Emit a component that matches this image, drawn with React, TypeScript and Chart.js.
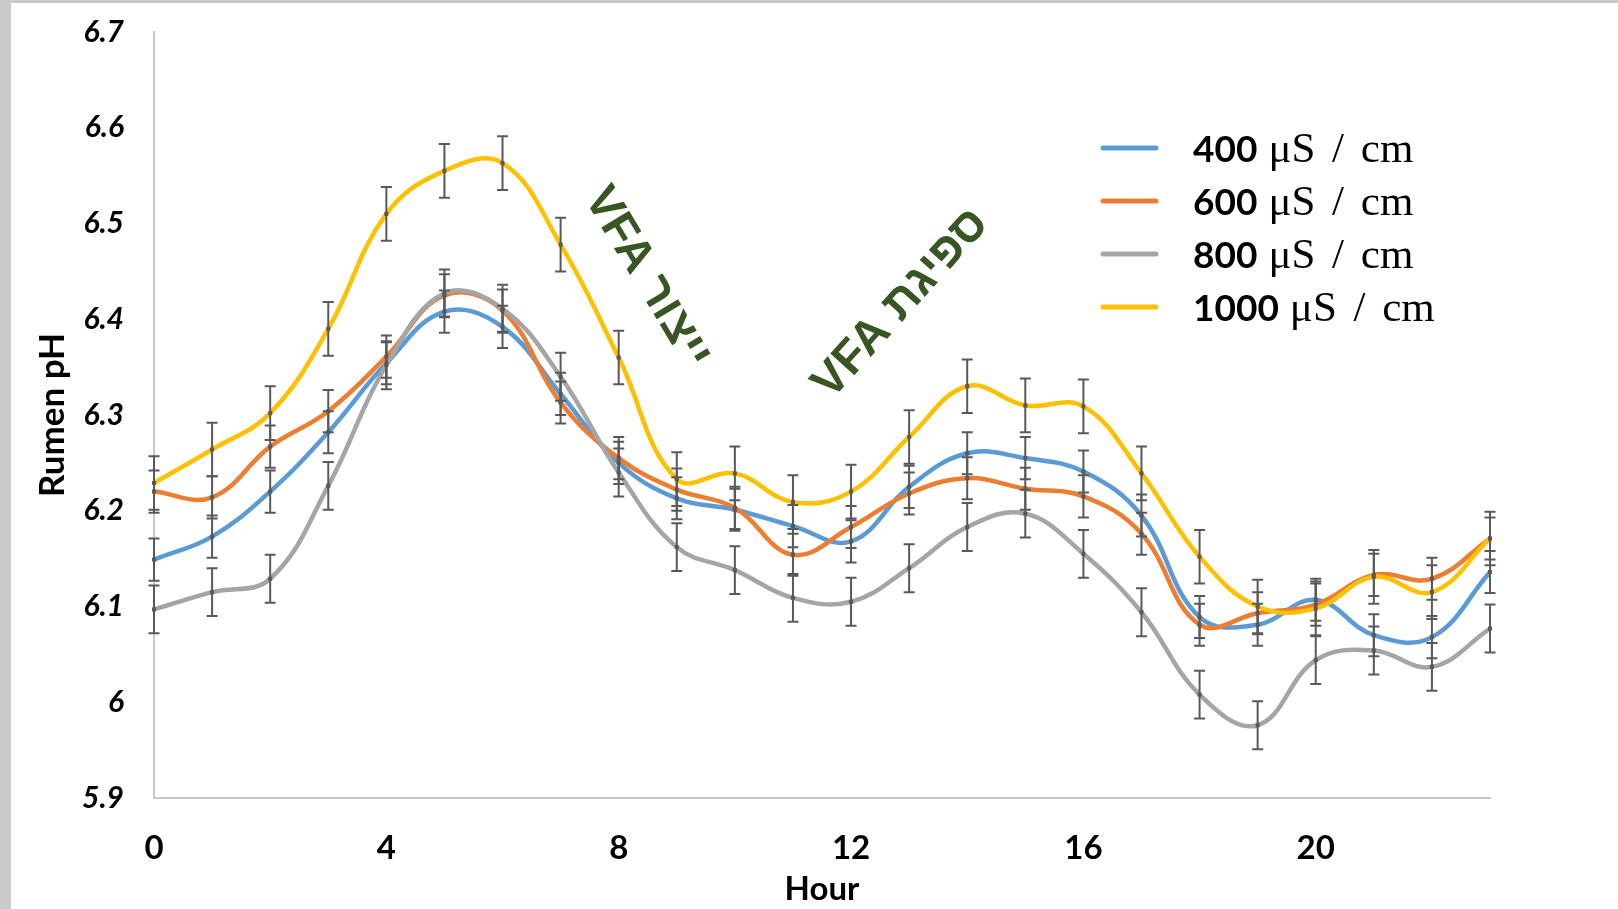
import React, { useEffect, useRef } from "react";
import { Chart, registerables } from "chart.js";

Chart.register(...registerables);

// ---- data ----
const hours = [0, 1, 2, 3, 4, 5, 6, 7, 8, 9, 10, 11, 12, 13, 14, 15, 16, 17, 18, 19, 20, 21, 22, 23];
const seriesNames = ["400", "600", "800", "1000"];
const unitText = "μS / cm";
const ph400 = [6.149, 6.173, 6.220, 6.282, 6.354, 6.408, 6.392, 6.322, 6.250, 6.213, 6.201, 6.184, 6.168, 6.225, 6.260, 6.255, 6.241, 6.195, 6.089, 6.081, 6.107, 6.070, 6.068, 6.136];
const ph600 = [6.220, 6.214, 6.267, 6.304, 6.361, 6.425, 6.409, 6.313, 6.255, 6.222, 6.203, 6.154, 6.183, 6.218, 6.234, 6.223, 6.215, 6.176, 6.081, 6.093, 6.102, 6.133, 6.129, 6.171];
const ph800 = [6.097, 6.115, 6.129, 6.226, 6.352, 6.427, 6.411, 6.340, 6.240, 6.162, 6.138, 6.109, 6.105, 6.140, 6.183, 6.197, 6.155, 6.094, 6.008, 5.976, 6.044, 6.054, 6.037, 6.077];
const ph1000 = [6.229, 6.264, 6.302, 6.390, 6.510, 6.555, 6.563, 6.478, 6.360, 6.233, 6.239, 6.209, 6.220, 6.277, 6.330, 6.310, 6.309, 6.239, 6.152, 6.100, 6.098, 6.131, 6.115, 6.171];
const err400 = [0.022, 0.022, 0.022, 0.022, 0.022, 0.022, 0.022, 0.022, 0.022, 0.022, 0.022, 0.022, 0.022, 0.022, 0.022, 0.022, 0.022, 0.022, 0.022, 0.022, 0.022, 0.022, 0.022, 0.022];
const err600 = [0.022, 0.022, 0.022, 0.022, 0.022, 0.022, 0.022, 0.022, 0.022, 0.022, 0.022, 0.022, 0.022, 0.022, 0.022, 0.022, 0.022, 0.022, 0.022, 0.022, 0.022, 0.022, 0.022, 0.022];
const err800 = [0.025, 0.025, 0.025, 0.025, 0.025, 0.025, 0.025, 0.025, 0.025, 0.025, 0.025, 0.025, 0.025, 0.025, 0.025, 0.025, 0.025, 0.025, 0.025, 0.025, 0.025, 0.025, 0.025, 0.025];
const err1000 = [0.028, 0.028, 0.028, 0.028, 0.028, 0.028, 0.028, 0.028, 0.028, 0.028, 0.028, 0.028, 0.028, 0.028, 0.028, 0.028, 0.028, 0.028, 0.028, 0.028, 0.028, 0.028, 0.028, 0.028];
const annotationTexts = ["ייצור VFA", "ספיגת VFA"];
const xTitle = "Hour";
const yTitle = "Rumen pH";

const seriesValues = [ph400, ph600, ph800, ph1000];
const seriesErrors = [err400, err600, err800, err1000];
const colors = ["#5B9BD5", "#ED7D31", "#A5A5A5", "#FFC000"];
const drawOrder = [3, 2, 1, 0];

export default function App() {
  const ref = useRef<HTMLCanvasElement>(null);

  useEffect(() => {
    const canvas = ref.current!;

    const errorBars = {
      id: "errorBars",
      afterDatasetsDraw(chart: any) {
        const ctx = chart.ctx;
        const xs = chart.scales.x;
        const ys = chart.scales.y;
        ctx.save();
        ctx.strokeStyle = "#595959";
        ctx.fillStyle = "#595959";
        ctx.lineWidth = 2;
        seriesValues.forEach((vals, si) => {
          vals.forEach((v, i) => {
            const e = seriesErrors[si][i];
            const x = xs.getPixelForValue(hours[i]);
            const yt = ys.getPixelForValue(v + e);
            const yb = ys.getPixelForValue(v - e);
            const y = ys.getPixelForValue(v);
            ctx.beginPath();
            ctx.moveTo(x, yt);
            ctx.lineTo(x, yb);
            ctx.moveTo(x - 5.5, yt);
            ctx.lineTo(x + 5.5, yt);
            ctx.moveTo(x - 5.5, yb);
            ctx.lineTo(x + 5.5, yb);
            ctx.stroke();
            ctx.fillRect(x - 2, y - 2, 4, 4);
          });
        });
        ctx.restore();
      },
    };

    const customLegend = {
      id: "customLegend",
      afterDraw(chart: any) {
        const ctx = chart.ctx;
        ctx.save();
        seriesNames.forEach((name, i) => {
          const y = 148 + i * 53;
          ctx.strokeStyle = colors[i];
          ctx.lineWidth = 5;
          ctx.lineCap = "round";
          ctx.beginPath();
          ctx.moveTo(1103, y);
          ctx.lineTo(1156, y);
          ctx.stroke();
          ctx.fillStyle = "#000";
          ctx.textBaseline = "alphabetic";
          ctx.textAlign = "left";
          ctx.font = "bold 37px Lato";
          ctx.fillText(name, 1193, y + 13.5);
          const w = ctx.measureText(name).width;
          ctx.font = '43px "Liberation Serif"';
          (ctx as any).wordSpacing = "6px";
          ctx.fillText(unitText, 1193 + w + 11, y + 13.5);
          (ctx as any).wordSpacing = "0px";
        });
        ctx.restore();
      },
    };

    const annotations = {
      id: "annotations",
      afterDraw(chart: any) {
        const ctx = chart.ctx;
        const place = [
          { x: 647, y: 278, a: 59 },
          { x: 901, y: 304, a: -48 },
        ];
        annotationTexts.forEach((t, i) => {
          const p = place[i];
          ctx.save();
          ctx.translate(p.x, p.y);
          ctx.rotate((p.a * Math.PI) / 180);
          ctx.font = 'bold 47px "Liberation Sans", "DejaVu Sans"';
          ctx.fillStyle = "#375623";
          ctx.textAlign = "center";
          ctx.textBaseline = "middle";
          ctx.direction = "rtl";
          ctx.fillText(t, 0, 0);
          ctx.restore();
        });
      },
    };

    const chart = new Chart(canvas, {
      type: "line",
      data: {
        datasets: seriesValues.map((vals, si) => ({
          label: seriesNames[si] + " " + unitText,
          data: vals.map((v, i) => ({ x: hours[i], y: v })),
          borderColor: colors[si],
          backgroundColor: colors[si],
          borderWidth: 4.5,
          pointRadius: 0,
          tension: 0.4,
          fill: false,
          order: drawOrder[si],
        })),
      },
      options: {
        animation: false,
        responsive: false,
        devicePixelRatio: 1,
        layout: { padding: { left: 0, top: 32, right: 128, bottom: 0 } },
        plugins: {
          legend: { display: false },
          tooltip: { enabled: false },
        },
        scales: {
          x: {
            type: "linear",
            min: 0,
            max: 23,
            afterFit(scale: any) {
              scale.height = 111;
              scale.paddingLeft = 0;
              scale.paddingRight = 0;
            },
            grid: { display: false, drawTicks: false },
            border: { display: true, color: "#C8C8C8", width: 2 },
            ticks: {
              stepSize: 4,
              includeBounds: false,
              color: "#000",
              padding: 31,
              font: { family: "Lato", weight: "bold", size: 33 },
            },
            title: {
              display: true,
              text: xTitle,
              color: "#000",
              padding: { top: 0, bottom: 0 },
              font: { family: "Lato", weight: "bold", size: 33 },
            },
          },
          y: {
            min: 5.9,
            max: 6.7,
            afterFit(scale: any) {
              scale.width = 154;
              scale.paddingTop = 0;
              scale.paddingBottom = 0;
            },
            grid: { display: false, drawTicks: false },
            border: { display: true, color: "#C8C8C8", width: 2 },
            ticks: {
              stepSize: 0.1,
              color: "#000",
              padding: 30,
              font: { family: "Lato", weight: "bold", style: "italic", size: 30 },
              callback: (v: any) => String(Math.round(Number(v) * 10) / 10),
            },
            title: {
              display: true,
              text: yTitle,
              color: "#000",
              padding: { top: 32, bottom: 0 },
              font: { family: "Lato", weight: "bold", size: 35 },
            },
          },
        },
      },
      plugins: [errorBars, customLegend, annotations],
    } as any);

    return () => chart.destroy();
  }, []);

  return (
    <div style={{ position: "fixed", left: 0, top: 0, width: 1618, height: 909, background: "#fff", overflow: "hidden" }}>
      <canvas ref={ref} width={1618} height={909} style={{ display: "block" }} />
      <div style={{ position: "absolute", left: 0, top: 0, width: 11, height: 909, background: "#CACACA" }} />
      <div style={{ position: "absolute", left: 0, top: 0, width: 1618, height: 3, background: "#CACACA" }} />
    </div>
  );
}
